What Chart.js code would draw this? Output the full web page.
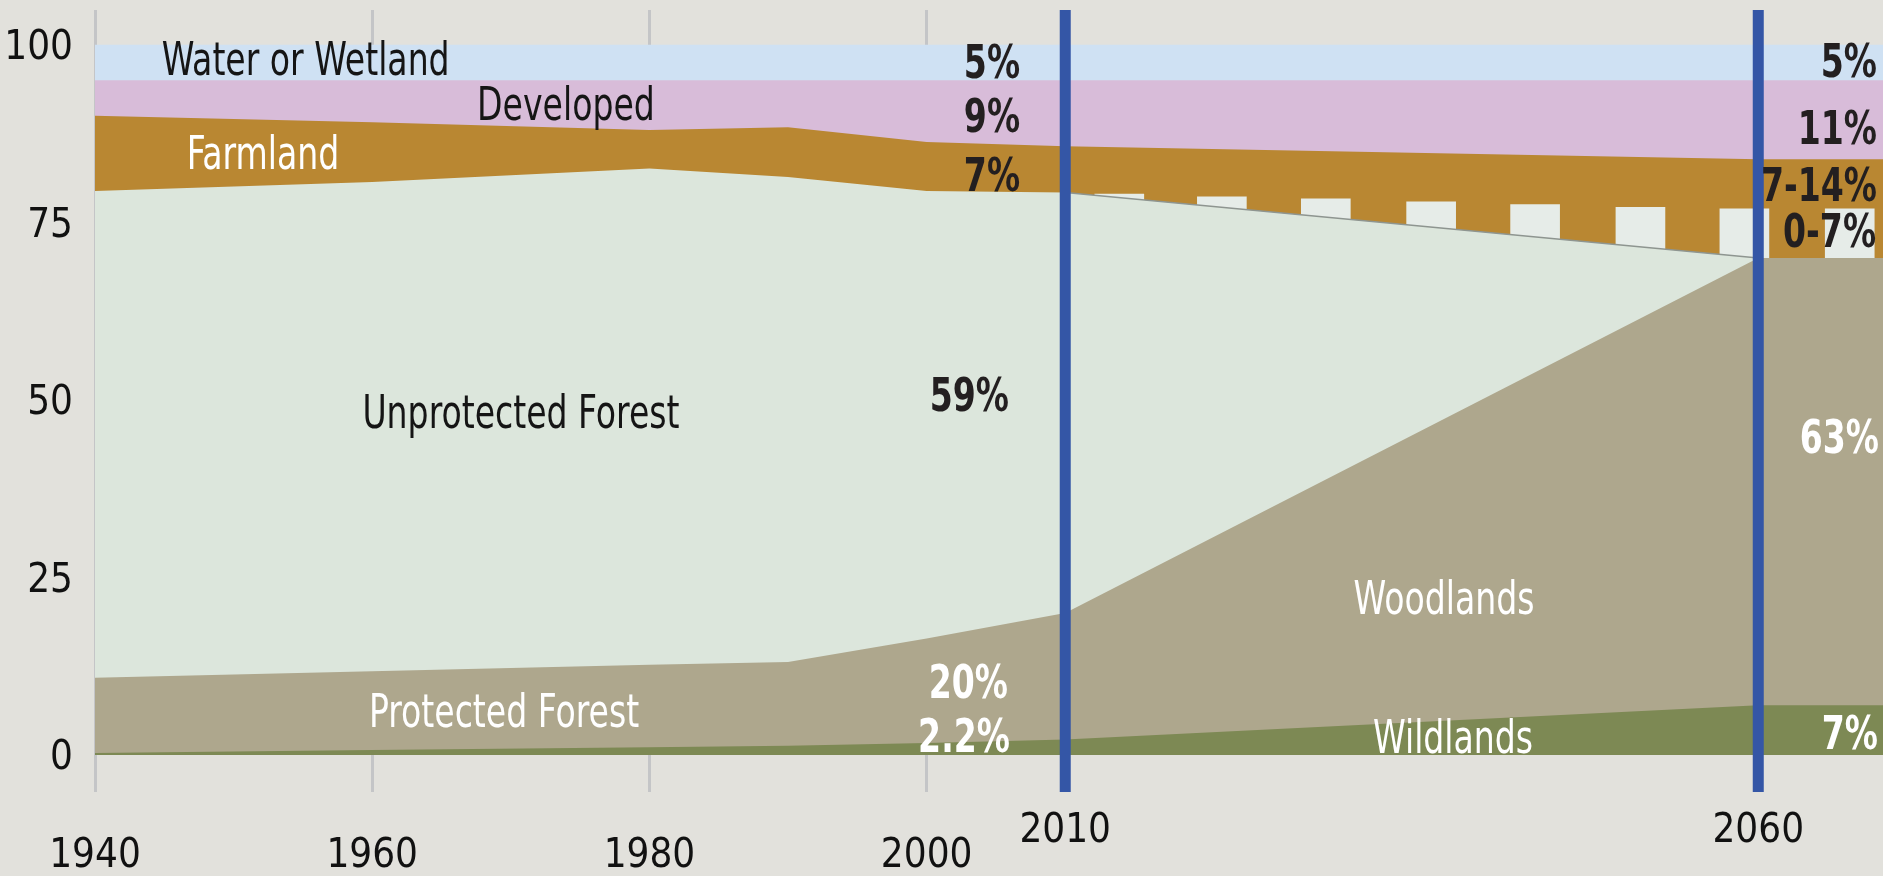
<!DOCTYPE html>
<html>
<head>
<meta charset="utf-8">
<script src="https://cdn.jsdelivr.net/npm/chart.js@4.4.1/dist/chart.umd.min.js"></script>
<style>
html,body{margin:0;padding:0;background:#e2e1dc;overflow:hidden}
#wrap{position:relative;width:1883px;height:876px}
</style>
</head>
<body>
<div id="wrap"><canvas id="c" width="1883" height="876"></canvas></div>
<script>
// ---- data (shares of land, percent) ----
const years = [1940, 1960, 1980, 1990, 2000, 2010, 2060, 2069];
const wildlands          = [0.3, 0.7, 1.1, 1.3, 1.7, 2.2, 7.0, 7.0];
const protectedWoodlands = [10.6, 11.1, 11.6, 11.8, 14.7, 17.8, 63.0, 63.0];
const unprotectedForest  = [68.5, 68.9, 69.9, 68.3, 63.0, 59.2, 0, 0];
const farmland           = [10.6, 8.4, 5.4, 7.0, 6.9, 6.5, 13.9, 13.9];
const developed          = [5.0, 5.9, 7.0, 6.6, 8.7, 9.3, 11.1, 11.1];
const water              = [5, 5, 5, 5, 5, 5, 5, 5];

// uncertain farmland (0-7%) stripes
const stripeYears = [2013.9, 2021.3, 2028.8, 2036.4, 2043.9, 2051.5, 2059.0, 2066.6];
const stripeTops  = [79.0, 78.6, 78.3, 77.9, 77.5, 77.1, 76.9, 76.9];
const stripeBase  = 69;

const xTickYears = [1940, 1960, 1980, 2000, 2010, 2060];
const markerYears = [2010, 2060];
const yTicks = [0, 25, 50, 75, 100];

const layerNames = ['Wildlands', 'Protected Forest / Woodlands', 'Unprotected Forest', 'Farmland', 'Developed', 'Water or Wetland'];
const layers = [wildlands, protectedWoodlands, unprotectedForest, farmland, developed, water];
const layerColors = ['#7d8954', '#aea78d', '#dce6dc', '#b98732', '#d8bcd9', '#cfe1f3'];

// annotation texts (anchored in data units)
const annotations = [
  {t:'Water or Wetland', x:1955.2, y:95.75, a:'center', c:'#151515', b:false},
  {t:'Developed', x:1973.98, y:89.4, a:'center', c:'#151515', b:false},
  {t:'Farmland', x:1952.12, y:82.5, a:'center', c:'#ffffff', b:false},
  {t:'Unprotected Forest', x:1970.73, y:46.05, a:'center', c:'#151515', b:false},
  {t:'Protected Forest', x:1969.51, y:3.95, a:'center', c:'#ffffff', b:false},
  {t:'Woodlands', x:2037.33, y:19.86, a:'center', c:'#ffffff', b:false},
  {t:'Wildlands', x:2037.98, y:0.29, a:'center', c:'#ffffff', b:false},
  {t:'5%', x:2006.74, y:95.32, a:'right', c:'#231f20', b:true},
  {t:'9%', x:2006.74, y:87.72, a:'right', c:'#231f20', b:true},
  {t:'7%', x:2006.74, y:79.42, a:'right', c:'#231f20', b:true},
  {t:'59%', x:2005.94, y:48.44, a:'right', c:'#231f20', b:true},
  {t:'20%', x:2005.87, y:8.04, a:'right', c:'#ffffff', b:true},
  {t:'2.2%', x:2006.01, y:0.43, a:'right', c:'#ffffff', b:true},
  {t:'5%', x:2068.57, y:95.46, a:'right', c:'#231f20', b:true},
  {t:'11%', x:2068.57, y:86.02, a:'right', c:'#231f20', b:true},
  {t:'7-14%', x:2068.57, y:78.0, a:'right', c:'#231f20', b:true},
  {t:'0-7%', x:2068.5, y:71.53, a:'right', c:'#231f20', b:true},
  {t:'63%', x:2068.71, y:42.53, a:'right', c:'#ffffff', b:true},
  {t:'7%', x:2068.64, y:0.85, a:'right', c:'#ffffff', b:true}
];

const FONT = "'Liberation Sans Narrow', 'DejaVu Sans Condensed', 'Arial Narrow', sans-serif";
Chart.defaults.font.family = FONT;

// cumulative boundaries
const cum = [];
let run = years.map(() => 0);
layers.forEach(l => { run = run.map((v, i) => +(v + l[i]).toFixed(2)); cum.push(run); });

const datasets = layers.map((l, k) => {
  const ds = {
    type: 'line',
    label: layerNames[k],
    data: years.map((x, i) => ({x, y: cum[k][i]})),
    fill: 'origin',
    backgroundColor: layerColors[k],
    borderColor: 'rgba(0,0,0,0)',
    borderWidth: 1,
    pointRadius: 0,
    tension: 0,
    order: k < 3 ? k : k + 1
  };
  if (k === 2) {
    ds.borderWidth = 1.5;
    ds.segment = {
      borderColor: c => (c.p0.parsed.x >= 2010 && c.p1.parsed.x <= 2060) ? '#8e9590' : 'rgba(0,0,0,0)'
    };
  }
  return ds;
});

datasets.push({
  type: 'bar',
  label: 'Uncertain farmland',
  data: stripeYears.map((x, i) => ({x, y: [stripeBase, stripeTops[i]]})),
  backgroundColor: '#e6ece8',
  borderWidth: 0,
  barThickness: 49,
  order: 3
});

const markerPlugin = {
  id: 'markers',
  afterDatasetsDraw(chart) {
    const {ctx, chartArea, scales: {x}} = chart;
    ctx.save();
    ctx.fillStyle = '#3456a6';
    markerYears.forEach(yr => {
      const px = x.getPixelForValue(yr);
      ctx.fillRect(px - 5.5, chartArea.top, 11, chartArea.bottom - chartArea.top);
    });
    ctx.restore();
  }
};

const textPlugin = {
  id: 'texts',
  afterDraw(chart) {
    const {ctx, scales: {x, y}} = chart;
    annotations.forEach(an => {
      ctx.save();
      ctx.textBaseline = 'alphabetic';
      ctx.font = (an.b ? 'bold ' : '') + '46px ' + FONT;
      ctx.fillStyle = an.c;
      ctx.textAlign = an.a;
      ctx.translate(x.getPixelForValue(an.x), y.getPixelForValue(an.y));
      ctx.scale(0.8, 1);
      ctx.fillText(an.t, 0, 0);
      ctx.restore();
    });
  }
};

new Chart(document.getElementById('c'), {
  type: 'line',
  data: {datasets},
  options: {
    responsive: false,
    animation: false,
    layout: {padding: {top: 10, left: 0, right: 0, bottom: 0}},
    plugins: {legend: {display: false}, tooltip: {enabled: false}},
    scales: {
      x: {
        type: 'linear', min: 1940, max: 2069, offset: false,
        afterBuildTicks: s => { s.ticks = xTickYears.map(v => ({value: v})); },
        ticks: {
          autoSkip: false, maxRotation: 0, minRotation: 0, padding: 27, color: '#111',
          font: {size: 40, lineHeight: '25px'},
          callback: v => markerYears.includes(v) ? String(v) : ['', String(v)]
        },
        grid: {
          offset: false, drawTicks: false, lineWidth: 3,
          color: c => (c.tick && markerYears.includes(c.tick.value)) ? 'rgba(0,0,0,0)' : '#c4c5c7'
        },
        border: {display: false},
        afterFit: s => { s.height = 84; }
      },
      y: {
        type: 'linear', min: -5.2, max: 104.9,
        afterBuildTicks: s => { s.ticks = yTicks.map(v => ({value: v})); },
        ticks: {color: '#111', padding: 0, labelOffset: 4, font: {size: 40, lineHeight: 0.3}},
        grid: {display: false, drawTicks: true, tickLength: 22},
        border: {display: false},
        afterFit: s => { s.width = 95; }
      }
    }
  },
  plugins: [markerPlugin, textPlugin]
});
</script>
</body>
</html>
